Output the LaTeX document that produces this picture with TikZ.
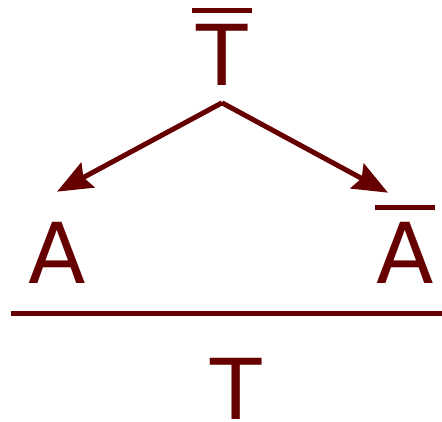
\documentclass[tikz,border=0pt]{standalone}
\usepackage{fontspec}
\setmainfont{DejaVu Sans}
\usetikzlibrary{arrows.meta}
\definecolor{maroon}{HTML}{660000}

\begin{document}
\begin{tikzpicture}[x=1pt,y=1pt,
  letter/.style={inner sep=0pt,text=maroon,font=\fontsize{84}{84}\selectfont},
  arr/.style={maroon,line width=5pt,-{Stealth[length=35pt,width=28pt,inset=5pt]}},
  bar/.style={maroon,line width=5pt}]
\useasboundingbox (0,0) rectangle (442,421);
\node[letter] (tbar) at (222,366) {T};
\node[letter] (a) at (57,168.5) {A};
\node[letter] (abar) at (405,168.5) {A};
\node[letter] (t) at (236,32.5) {T};
\draw[bar] ([xshift=-30pt,yshift=14pt]tbar.north) -- ([xshift=30pt,yshift=14pt]tbar.north);
\draw[bar] ([xshift=-30pt,yshift=14.5pt]abar.north) -- ([xshift=30pt,yshift=14.5pt]abar.north);
\coordinate (top) at ([yshift=-17pt]tbar.south);
\draw[arr] (top) -- ([xshift=0pt,yshift=30pt]a.north);
\draw[arr] (top) -- ([xshift=-17pt,yshift=29pt]abar.north);
\coordinate (linel) at (11,107.5);
\coordinate (liner) at (442,107.5);
\draw[bar] (linel) -- (liner);
\end{tikzpicture}
\end{document}
